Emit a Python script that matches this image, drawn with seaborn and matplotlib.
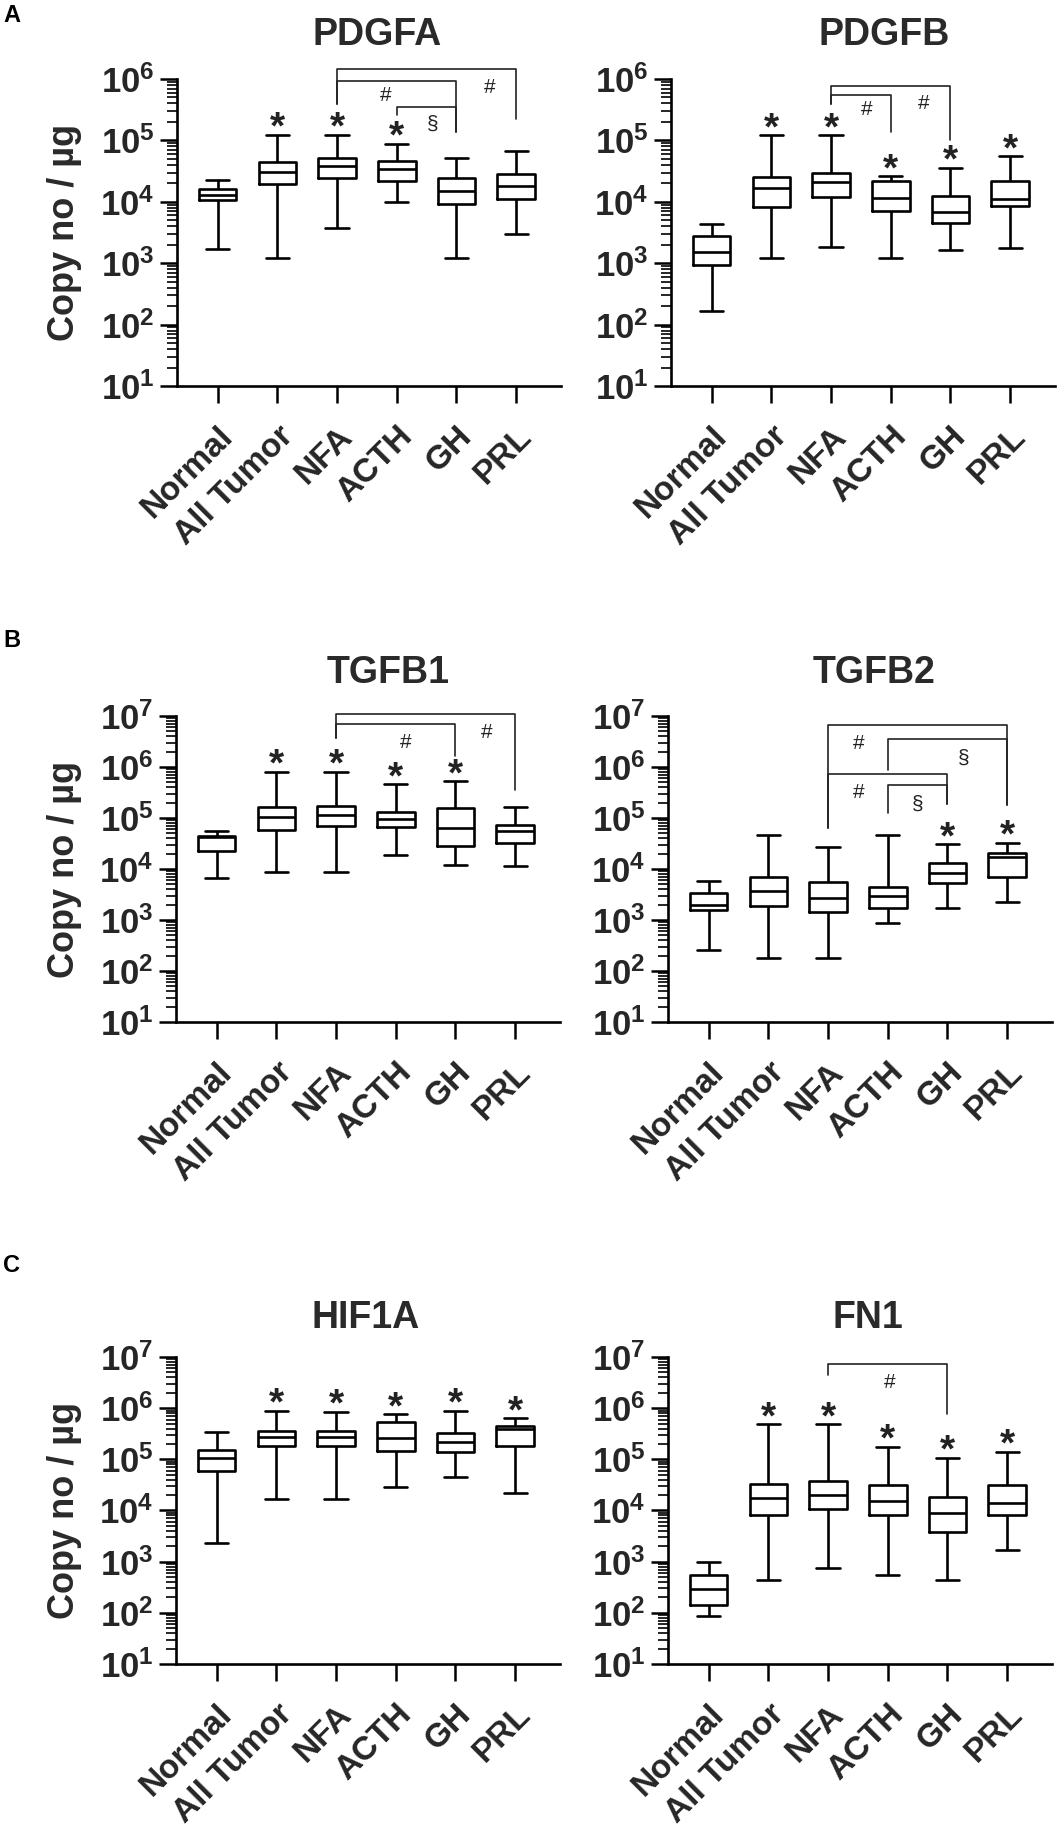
import numpy as np
import pandas as pd
import matplotlib
matplotlib.use('Agg')
import matplotlib.pyplot as plt
import matplotlib.ticker as mticker
import seaborn as sns

groups = ['Normal', 'All Tumor', 'NFA', 'ACTH', 'GH', 'PRL']

# five-number summaries: min, Q1, median, Q3, max (copy no / ug)
pdgfa = [[1700, 10700, 12900, 16200, 22600],
         [1230, 19200, 30900, 44600, 124000],
         [3700, 24700, 38000, 51000, 124000],
         [10000, 21700, 34000, 46000, 89000],
         [1230, 9300, 15000, 24700, 51600],
         [3000, 11100, 18300, 28000, 68000]]
pdgfb = [[165, 940, 1550, 2800, 4400],
         [1230, 8200, 16600, 25500, 121000],
         [1870, 12000, 21000, 29000, 121000],
         [1230, 7200, 11700, 22000, 26300],
         [1630, 4600, 6900, 12400, 36000],
         [1800, 8500, 11300, 21500, 56000]]
tgfb1 = [[6600, 23000, 42000, 44000, 55000],
         [8600, 59000, 103000, 162000, 810000],
         [8600, 69000, 116000, 175000, 810000],
         [18800, 66000, 96000, 133000, 463000],
         [12000, 28400, 63000, 157000, 530000],
         [11200, 32000, 56500, 74000, 162000]]
tgfb2 = [[260, 1600, 1960, 3450, 5800],
         [177, 1870, 3700, 7100, 46500],
         [177, 1420, 2650, 5600, 27500],
         [890, 1700, 3000, 4400, 46500],
         [1730, 5400, 8300, 13400, 30500],
         [2300, 7100, 17500, 20300, 33000]]
hif1a = [[2300, 59000, 105000, 151000, 340000],
         [17000, 183000, 270000, 363000, 890000],
         [17000, 183000, 277000, 363000, 850000],
         [29000, 148000, 260000, 540000, 760000],
         [44600, 141000, 218000, 330000, 890000],
         [22400, 182000, 390000, 450000, 630000]]
fn1 = [[87, 140, 297, 560, 1000],
       [435, 8100, 17400, 33000, 490000],
       [755, 10500, 20000, 38000, 490000],
       [560, 8100, 15600, 31000, 177000],
       [435, 3800, 8900, 18300, 108000],
       [1700, 8300, 13800, 32000, 141000]]

# * = significant vs Normal
stars = {'PDGFA': [0, 1, 1, 1, 0, 0],
         'PDGFB': [0, 1, 1, 1, 1, 1],
         'TGFB1': [0, 1, 1, 1, 1, 0],
         'TGFB2': [0, 0, 0, 0, 1, 1],
         'HIF1A': [0, 1, 1, 1, 1, 1],
         'FN1': [0, 1, 1, 1, 1, 1]}

# brackets: (from, to, top, left leg end, right leg end) in log10 units
brackets = {'PDGFA': [(2, 5, 6.16, 5.60, 5.35), (2, 4, 5.97, 5.60, 5.14), (3, 4, 5.55, 5.41, 5.14)],
            'PDGFB': [(2, 4, 5.89, 5.60, 5.01), (2, 3, 5.74, 5.60, 5.14)],
            'TGFB1': [(2, 5, 7.04, 6.57, 5.55), (2, 4, 6.84, 6.57, 6.22)],
            'TGFB2': [(2, 5, 6.82, 4.80, 5.25), (3, 5, 6.54, 5.94, 5.25),
                      (2, 4, 5.86, 4.80, 5.27), (3, 4, 5.65, 5.10, 5.27)],
            'HIF1A': [],
            'FN1': [(2, 4, 6.86, 6.64, 5.88)]}
# bracket symbols: (x, log10 y, text)
marks = {'PDGFA': [(4.56, 5.86, '#'), (2.81, 5.73, '#'), (3.6, 5.27, '§')],
         'PDGFB': [(3.55, 5.60, '#'), (2.59, 5.50, '#')],
         'TGFB1': [(4.52, 6.68, '#'), (3.17, 6.48, '#')],
         'TGFB2': [(2.52, 6.46, '#'), (4.27, 6.17, '§'), (2.52, 5.50, '#'), (3.5, 5.27, '§')],
         'HIF1A': [],
         'FN1': [(3.04, 6.51, '#')]}

summaries = {'PDGFA': pdgfa, 'PDGFB': pdgfb, 'TGFB1': tgfb1,
             'TGFB2': tgfb2, 'HIF1A': hif1a, 'FN1': fn1}
rows = []
for gene, summ in summaries.items():
    for grp, vals in zip(groups, summ):
        for v in vals:
            rows.append({'gene': gene, 'group': grp, 'value': v})
df = pd.DataFrame(rows)

sns.set_style('ticks')
plt.rcParams['font.family'] = ['Liberation Sans', 'DejaVu Sans']
plt.rcParams['mathtext.fontset'] = 'custom'
plt.rcParams['mathtext.rm'] = 'Liberation Sans'
plt.rcParams['mathtext.bf'] = 'Liberation Sans:bold'
plt.rcParams['mathtext.it'] = 'Liberation Sans:italic'

W, H = 1061, 1835
fig = plt.figure(figsize=(W / 100, H / 100), dpi=100)

# (gene, left px, top px, bottom px, ymax exponent, title x, title baseline)
layout = [('PDGFA', 177, 79, 386, 6, 377, 45),
          ('PDGFB', 671, 79, 386, 6, 884, 45),
          ('TGFB1', 176, 716, 1022, 7, 388, 683),
          ('TGFB2', 668, 716, 1022, 7, 874, 683),
          ('HIF1A', 176, 1357, 1664, 7, 366, 1328),
          ('FN1', 668, 1357, 1664, 7, 868, 1328)]

for gene, left, top, bottom, ymax, tx, ty in layout:
    ax = fig.add_axes([left / W, 1 - bottom / H, 384 / W, (bottom - top) / H])
    d = df[df.gene == gene]
    sns.boxplot(data=d, x='group', y='value', order=groups, ax=ax, log_scale=True,
                whis=(0, 100), width=0.63, fill=False, color='black',
                linecolor='black', linewidth=1.9, showfliers=False, capwidths=0.39)
    ax.set_ylim(10, 10.0 ** ymax)
    ax.set_xlim(-0.68, 5.75)
    ax.set_xlabel('')
    ax.set_ylabel('')
    ax.yaxis.set_major_locator(mticker.FixedLocator(10.0 ** np.arange(1, ymax + 1)))
    ax.yaxis.set_major_formatter(mticker.FuncFormatter(
        lambda v, p: r'$\mathbf{10^{%d}}$' % round(np.log10(v))))
    ax.yaxis.set_minor_locator(mticker.LogLocator(base=10, subs=np.arange(2, 10), numticks=100))
    ax.yaxis.set_minor_formatter(mticker.NullFormatter())
    ax.tick_params(axis='y', which='major', length=12, width=1.8, labelsize=25, pad=4, color='black')
    ax.tick_params(axis='y', which='minor', length=7, width=1.2, color='black')
    ax.set_xticks(range(len(groups)))
    ax.set_xticklabels(groups, rotation=45, ha='right', va='top',
                       rotation_mode='anchor', fontweight='bold', fontsize=24)
    ax.tick_params(axis='x', length=12, width=1.8, pad=13, color='black')
    sns.despine(ax=ax)
    for s in ['left', 'bottom']:
        ax.spines[s].set_linewidth(1.9)
        ax.spines[s].set_color('black')

    summ = summaries[gene]
    for i, flag in enumerate(stars[gene]):
        if flag:
            ax.annotate('*', xy=(i, summ[i][4]), xytext=(0, -3), textcoords='offset points',
                        ha='center', va='baseline', fontsize=28, fontweight='bold',
                        color='#222222')
    for x1, x2, t, l, r in brackets[gene]:
        ax.plot([x1, x1, x2, x2], [10 ** l, 10 ** t, 10 ** t, 10 ** r],
                color='#222222', lw=1.2, clip_on=False)
    for x, y, s in marks[gene]:
        ax.text(x, 10 ** y, s, ha='center', va='center', fontsize=15, color='#222222')

    fig.text(tx / W, 1 - ty / H, gene, ha='center', va='baseline',
             fontsize=27, fontweight='bold', color='#2a2a2a')

for ytop, ybot in [(79, 386), (716, 1022), (1357, 1664)]:
    fig.text(65 / W, 1 - (ytop + ybot) / 2 / H, 'Copy no / µg', rotation=90,
             ha='center', va='center', fontsize=26, fontweight='bold', color='#2a2a2a')

for letter, y in [('A', 16), ('B', 640), ('C', 1266)]:
    fig.text(3 / W, 1 - y / H, letter, ha='left', va='center',
             fontsize=17, fontweight='bold', color='black')

fig.savefig('out.png', dpi=100)
